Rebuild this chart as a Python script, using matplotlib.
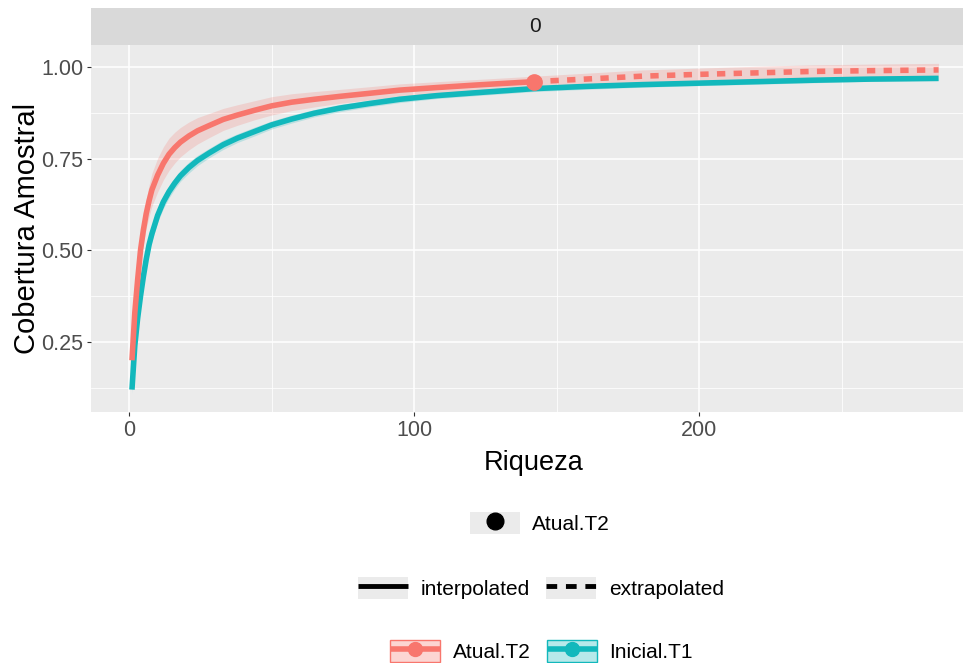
import numpy as np
import matplotlib
matplotlib.use('Agg')
import matplotlib.pyplot as plt
from matplotlib.lines import Line2D
from matplotlib.patches import Patch
from matplotlib.legend_handler import HandlerTuple
from matplotlib.ticker import MultipleLocator
from matplotlib.colors import to_rgba

plt.rcParams['font.family'] = ['Liberation Sans', 'DejaVu Sans']

# sample size (x) shared by both curves
riqueza = [1, 2, 3, 4, 5, 6, 7, 8, 10, 12, 14, 16, 18, 21, 24, 28, 33, 38, 44, 50,
           57, 65, 74, 84, 95, 108, 122, 142, 160, 180, 200, 220, 240, 260, 284]

# Atual.T2 coverage and half width of its ribbon
atual_y = [0.20, 0.33, 0.42, 0.50, 0.555, 0.60, 0.635, 0.665, 0.705, 0.737, 0.762,
           0.78, 0.795, 0.812, 0.826, 0.84, 0.857, 0.869, 0.882, 0.894, 0.904,
           0.912, 0.92, 0.928, 0.937, 0.944, 0.951, 0.96, 0.967, 0.975, 0.98,
           0.984, 0.988, 0.99, 0.992]
atual_hw = [0.01, 0.02, 0.028, 0.034, 0.038, 0.04, 0.043, 0.045, 0.046, 0.045,
            0.044, 0.042, 0.04, 0.038, 0.036, 0.033, 0.03, 0.028, 0.026, 0.025,
            0.023, 0.021, 0.019, 0.018, 0.017, 0.016, 0.015, 0.015, 0.016, 0.017,
            0.017, 0.018, 0.018, 0.018, 0.018]
atual_n = 142        # reference sample -> observed point
atual_obs = 0.96

# Inicial.T1
inicial_y = [0.12, 0.24, 0.315, 0.375, 0.428, 0.475, 0.515, 0.545, 0.595, 0.632,
             0.66, 0.683, 0.703, 0.726, 0.745, 0.765, 0.788, 0.806, 0.824, 0.842,
             0.858, 0.874, 0.888, 0.9, 0.912, 0.922, 0.93, 0.941, 0.947, 0.952,
             0.956, 0.96, 0.964, 0.967, 0.969]
inicial_hw = [0.01, 0.014, 0.017, 0.019, 0.02, 0.02, 0.02, 0.02, 0.019, 0.018,
              0.017, 0.016, 0.015, 0.015, 0.014, 0.013, 0.013, 0.012, 0.012, 0.011,
              0.011, 0.01, 0.01, 0.009, 0.009, 0.008, 0.008, 0.008, 0.008, 0.007,
              0.007, 0.007, 0.007, 0.006, 0.006]

x_ticks = [0, 100, 200]
y_ticks = [0.25, 0.50, 0.75, 1.00]
y_ticklabels = ['0.25', '0.50', '0.75', '1.00']

RED = '#F8766D'
TEAL = '#12B8BC'


def draw_panel(ax):
    '''
    Ribbons, curves and the observed point, ggplot grey theme.
    '''
    x = np.array(riqueza)
    ay = np.array(atual_y)
    iy = np.array(inicial_y)
    ahw = np.array(atual_hw)
    ihw = np.array(inicial_hw)

    ax.set_facecolor('#EBEBEB')
    for s in ax.spines.values():
        s.set_visible(False)

    ax.fill_between(x, ay - ahw, ay + ahw, color=RED, alpha=0.22, lw=0)
    ax.fill_between(x, iy - ihw, iy + ihw, color=TEAL, alpha=0.22, lw=0)

    ax.plot(x, iy, color=TEAL, lw=4, solid_capstyle='butt', solid_joinstyle='round')
    interp = x <= atual_n
    extrap = x >= atual_n
    ax.plot(x[interp], ay[interp], color=RED, lw=4, solid_capstyle='butt',
            solid_joinstyle='round')
    ax.plot(x[extrap], ay[extrap], color=RED, lw=4, linestyle=(0, (1.5, 1.5)))
    ax.plot([atual_n], [atual_obs], 'o', color=RED, ms=11)

    ax.set_xlim(-13.2, 298.2)
    ax.set_ylim(0.059, 1.06)
    ax.set_xticks(x_ticks)
    ax.set_yticks(y_ticks)
    ax.set_yticklabels(y_ticklabels)
    ax.xaxis.set_minor_locator(MultipleLocator(50))
    ax.yaxis.set_minor_locator(MultipleLocator(0.125))
    ax.set_axisbelow(True)
    ax.grid(which='major', color='white', lw=1.1)
    ax.grid(which='minor', color='white', lw=0.55)
    ax.tick_params(which='major', length=3, width=0.8, color='#333333',
                   labelsize=15.5, labelcolor='#4D4D4D', pad=3)
    ax.tick_params(which='minor', length=0)


def draw_legends(fig):
    '''
    The three stacked ggplot legends under the panel.
    '''
    grey_key = Patch(facecolor='#EBEBEB', edgecolor='none')
    opts = dict(loc='center', frameon=False, borderpad=0, fontsize=15,
                handlelength=2.4, handleheight=1.3, handletextpad=0.6,
                columnspacing=0.8, handler_map={tuple: HandlerTuple(ndivide=1, pad=0)})

    dot = Line2D([], [], ls='none', marker='o', color='black', ms=12)
    fig.legend([(grey_key, dot)], ['Atual.T2'], bbox_to_anchor=(0.5607, 0.2112), **opts)

    solid = Line2D([], [], color='black', lw=3.5, solid_capstyle='butt')
    dashed = Line2D([], [], color='black', lw=3.5, linestyle=(0, (2.2, 1.8)))
    fig.legend([(grey_key, solid), (grey_key, dashed)], ['interpolated', 'extrapolated'],
               ncol=2, bbox_to_anchor=(0.5618, 0.1131), **opts)

    keys = []
    for c in (RED, TEAL):
        box = Patch(facecolor=to_rgba(c, 0.3), edgecolor=c, lw=1)
        line = Line2D([], [], color=c, lw=4, marker='o', ms=10, solid_capstyle='butt')
        keys.append((box, line))
    fig.legend(keys, ['Atual.T2', 'Inicial.T1'], ncol=2,
               bbox_to_anchor=(0.5623, 0.0181), **opts)


def main():
    fig = plt.figure(figsize=(9.63, 6.63), dpi=100)
    ax = fig.add_axes([0.095, 0.3786, 0.9216, 0.5535])
    draw_panel(ax)

    strip = fig.add_axes([0.095, 0.9321, 0.9216, 0.0558])
    strip.set_facecolor('#D9D9D9')
    strip.set_xticks([])
    strip.set_yticks([])
    for s in strip.spines.values():
        s.set_visible(False)
    strip.text(0.5, 0.5, '0', transform=strip.transAxes, ha='center', va='center',
               fontsize=15, color='#1A1A1A')

    fig.text(0.5545, 0.302, 'Riqueza', ha='center', va='center', fontsize=19.5)
    fig.text(0.028, 0.655, 'Cobertura Amostral', ha='center', va='center',
             rotation=90, fontsize=21)

    draw_legends(fig)
    fig.savefig('out.png', dpi=100)


if __name__ == '__main__':
    main()
